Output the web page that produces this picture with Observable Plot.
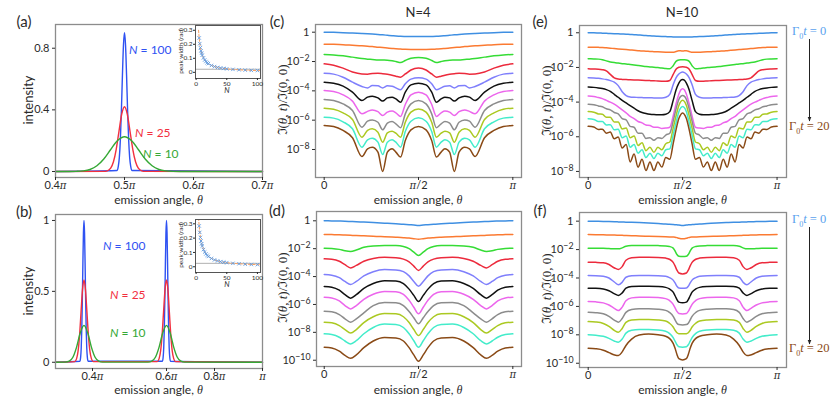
<!DOCTYPE html>
<html><head><meta charset="utf-8">
<script src="https://cdn.jsdelivr.net/npm/d3@7"></script>
<script src="https://cdn.jsdelivr.net/npm/@observablehq/plot@0.6"></script>
<style>
html,body{margin:0;padding:0;background:#fff;}
#fig{position:relative;width:831px;height:398px;overflow:hidden;background:#fff;font-family:Lato,"Open Sans",sans-serif;color:#2b2b2b;}
.t{position:absolute;white-space:nowrap;line-height:1;}
.m{font-family:'Liberation Serif','DejaVu Serif',serif;}
</style></head>
<body><div id="fig"></div>
<script>
// ================= DATA =================
// θ is given in units of π.
// ---- panel (a): one peak at θ = π/2 ----
const aCenters = [0.5];
const aOffN100 = [-0.011,-0.009,-0.0075,-0.006,-0.0045,-0.003,-0.0015,0,0.0015,0.003,0.0045,0.006,0.0075,0.009,0.011];
const aValN100 = [0.006,0.033,0.09,0.207,0.394,0.624,0.821,0.9,0.821,0.624,0.394,0.207,0.09,0.033,0.006];
const aOffN25  = [-0.03,-0.025,-0.02,-0.016,-0.012,-0.008,-0.004,0,0.004,0.008,0.012,0.016,0.02,0.025,0.03];
const aValN25  = [0.0005,0.004,0.0215,0.063,0.144,0.261,0.373,0.42,0.373,0.261,0.144,0.063,0.0215,0.004,0.0005];
const aOffN10  = [-0.08,-0.07,-0.06,-0.05,-0.04,-0.03,-0.02,-0.01,0,0.01,0.02,0.03,0.04,0.05,0.06,0.07,0.08];
const aValN10  = [0,0.0009,0.0038,0.013,0.037,0.081,0.143,0.201,0.225,0.201,0.143,0.081,0.037,0.013,0.0038,0.0009,0];
const aXTicks = [0.4,0.5,0.6,0.7];
const aYTicks = [0,0.4,0.8];

// ---- panel (b): two peaks ----
const bCenters = [0.377, 0.6];
const bOffN100 = [-0.011,-0.009,-0.0075,-0.006,-0.0045,-0.003,-0.0015,0,0.0015,0.003,0.0045,0.006,0.0075,0.009,0.011];
const bValN100 = [0.007,0.037,0.1,0.23,0.437,0.693,0.912,1.0,0.912,0.693,0.437,0.23,0.1,0.037,0.007];
const bOffN25  = [-0.025,-0.02,-0.016,-0.012,-0.008,-0.004,0,0.004,0.008,0.012,0.016,0.02,0.025];
const bValN25  = [0.0044,0.0255,0.078,0.188,0.352,0.512,0.58,0.512,0.352,0.188,0.078,0.0255,0.0044];
const bOffN10  = [-0.05,-0.04,-0.03,-0.02,-0.01,0,0.01,0.02,0.03,0.04,0.05];
const bValN10  = [0.001,0.0074,0.035,0.107,0.208,0.26,0.208,0.107,0.035,0.0074,0.001];
const bXTicks = [0.4,0.6,0.8,1];
const bYTicks = [0,0.5,1];

// ---- insets: peak width (rad) vs N ----
const insetN      = [5,6,7,8,9,10,12,14,16,18,20,25,30,35,40,45,50,60,70,80,90,100];
const insetWidthA = [0.245,0.205,0.176,0.153,0.137,0.123,0.103,0.088,0.077,0.068,0.062,0.049,0.041,0.035,0.031,0.028,0.025,0.021,0.018,0.016,0.014,0.013];
const insetWidthB = [0.285,0.24,0.205,0.18,0.16,0.145,0.12,0.103,0.09,0.08,0.072,0.058,0.048,0.041,0.036,0.032,0.029,0.024,0.021,0.018,0.016,0.015];
const fitN  = [4,5,6,8,10,13,16,20,25,30,40,50,60,70,80,90,100,105];
const fitA  = [0.3,0.245,0.205,0.153,0.123,0.094,0.077,0.061,0.049,0.041,0.031,0.025,0.021,0.018,0.015,0.014,0.012,0.012];
const fitB  = [0.34,0.285,0.24,0.18,0.145,0.112,0.091,0.073,0.058,0.048,0.036,0.029,0.024,0.021,0.018,0.016,0.015,0.014];
const insetRefA = 0.022, insetRefB = 0.024;

// ---- panels (c)-(f): log10 of ℑ(θ,t)/ℑ(0,0), Γ0t = 0 … 20 (11 curves),
//      listed for 0 ≤ θ ≤ π/2; the curves are symmetric about π/2 ----
const thetaC = [0,0.05,0.1,0.15,0.2,0.23,0.255,0.285,0.31,0.335,0.36,0.38,0.405,0.43,0.46,0.5];
const logC = [
 [0,-0.01,-0.03,-0.06,-0.09,-0.11,-0.13,-0.16,-0.18,-0.21,-0.24,-0.26,-0.28,-0.29,-0.3,-0.3],
 [-0.82,-0.83,-0.85,-0.89,-0.93,-0.96,-0.98,-1.02,-1.05,-1.08,-1.11,-1.13,-1.15,-1.17,-1.18,-1.18],
 [-1.52,-1.55,-1.61,-1.7,-1.8,-1.84,-1.86,-1.89,-1.9,-1.91,-1.95,-2.0,-2.07,-1.93,-1.77,-1.73],
 [-2.16,-2.25,-2.45,-2.72,-2.85,-2.86,-2.82,-2.8,-2.83,-2.87,-2.93,-3.0,-3.07,-2.85,-2.58,-2.45],
 [-2.8,-2.86,-3.07,-3.41,-3.7,-3.8,-3.64,-3.66,-3.8,-3.66,-3.68,-3.8,-3.93,-3.52,-3.2,-3.11],
 [-3.41,-3.48,-3.68,-4.09,-4.66,-4.43,-4.36,-4.48,-4.7,-4.48,-4.43,-4.55,-4.77,-4.09,-3.59,-3.48],
 [-3.98,-4.05,-4.27,-4.7,-5.57,-5.4,-5.3,-5.42,-5.68,-5.45,-5.38,-5.5,-5.75,-4.93,-4.27,-4.09],
 [-4.59,-4.66,-4.89,-5.34,-6.48,-6.07,-5.98,-6.14,-6.66,-6.2,-6.09,-6.25,-6.52,-5.57,-4.89,-4.66],
 [-5.18,-5.25,-5.5,-5.95,-7.16,-6.7,-6.59,-6.82,-7.5,-6.86,-6.75,-6.89,-7.16,-6.14,-5.45,-5.23],
 [-5.8,-5.86,-6.11,-6.59,-7.84,-7.34,-7.23,-7.5,-8.34,-7.5,-7.34,-7.5,-7.84,-6.77,-6.07,-5.84],
 [-6.36,-6.43,-6.7,-7.2,-8.48,-7.95,-7.84,-8.18,-9.5,-8.18,-7.95,-8.18,-8.52,-7.39,-6.66,-6.43]
];
const thetaD = [0,0.04,0.08,0.11,0.14,0.17,0.21,0.26,0.32,0.38,0.42,0.45,0.475,0.5];
const logD = [
 [0,-0.01,-0.02,-0.03,-0.05,-0.07,-0.09,-0.12,-0.17,-0.22,-0.25,-0.28,-0.3,-0.33],
 [-0.98,-0.99,-1.0,-1.02,-1.04,-1.06,-1.08,-1.1,-1.14,-1.18,-1.21,-1.24,-1.28,-1.32],
 [-1.96,-1.98,-2.05,-2.15,-2.2,-2.1,-1.9,-1.8,-1.77,-1.78,-1.85,-2.0,-2.25,-2.49],
 [-2.73,-2.76,-2.9,-3.15,-3.38,-3.2,-2.9,-2.7,-2.62,-2.65,-2.75,-2.95,-3.25,-3.56],
 [-3.85,-3.9,-4.08,-4.35,-4.57,-4.35,-3.95,-3.65,-3.5,-3.52,-3.65,-3.95,-4.35,-4.69],
 [-4.71,-4.76,-4.98,-5.3,-5.55,-5.3,-4.85,-4.5,-4.3,-4.32,-4.5,-4.9,-5.35,-5.79],
 [-5.48,-5.53,-5.75,-6.08,-6.32,-6.08,-5.63,-5.27,-5.07,-5.08,-5.27,-5.7,-6.2,-6.67],
 [-6.48,-6.53,-6.73,-7.03,-7.27,-7.03,-6.6,-6.08,-5.86,-5.88,-6.08,-6.5,-6.95,-7.39],
 [-7.27,-7.32,-7.52,-7.8,-8.04,-7.8,-7.3,-6.88,-6.65,-6.67,-6.88,-7.3,-7.8,-8.23],
 [-8.11,-8.16,-8.35,-8.62,-8.83,-8.6,-8.1,-7.65,-7.41,-7.43,-7.65,-8.1,-8.6,-9.07],
 [-9.07,-9.12,-9.35,-9.65,-9.86,-9.62,-9.1,-8.62,-8.37,-8.4,-8.62,-9.1,-9.62,-10.07]
];
const thetaE = [0,0.03,0.054,0.075,0.096,0.117,0.138,0.159,0.18,0.201,0.222,0.243,0.264,0.285,0.306,0.327,0.348,0.369,0.39,0.411,0.432,0.45,0.465,0.48,0.49,0.5];
const logE = [
 [0,0,-0.01,-0.02,-0.03,-0.04,-0.05,-0.06,-0.07,-0.08,-0.1,-0.11,-0.13,-0.14,-0.16,-0.17,-0.19,-0.2,-0.21,-0.22,-0.23,-0.24,-0.245,-0.25,-0.25,-0.25],
 [-0.83,-0.83,-0.84,-0.85,-0.87,-0.89,-0.91,-0.93,-0.95,-0.97,-0.99,-1.01,-1.03,-1.05,-1.06,-1.08,-1.09,-1.1,-1.11,-1.12,-1.13,-1.13,-1.08,-1.04,-1.04,-1.05],
 [-1.5,-1.51,-1.52,-1.55,-1.62,-1.68,-1.72,-1.75,-1.78,-1.8,-1.83,-1.86,-1.89,-1.92,-1.95,-1.97,-1.99,-2.01,-2.03,-2.06,-2.07,-1.9,-1.65,-1.57,-1.56,-1.56],
 [-2.08,-2.09,-2.1,-2.13,-2.2,-2.4,-2.6,-2.67,-2.69,-2.7,-2.71,-2.72,-2.73,-2.74,-2.75,-2.76,-2.77,-2.78,-2.79,-2.8,-2.75,-2.4,-2.1,-1.99,-1.97,-1.96],
 [-2.6,-2.61,-2.63,-2.66,-2.7,-2.76,-2.85,-3.05,-3.4,-3.62,-3.7,-3.72,-3.73,-3.74,-3.75,-3.75,-3.76,-3.76,-3.76,-3.72,-3.55,-3.0,-2.6,-2.38,-2.3,-2.27],
 [-3.13,-3.15,-3.18,-3.22,-3.28,-3.38,-3.55,-3.72,-3.9,-4.05,-4.2,-4.35,-4.5,-4.6,-4.66,-4.7,-4.72,-4.73,-4.73,-4.7,-4.55,-3.9,-3.3,-2.9,-2.74,-2.69],
 [-3.65,-3.68,-3.74,-3.8,-3.9,-4.0,-4.12,-4.27,-4.45,-4.62,-4.82,-4.95,-5.12,-5.2,-5.32,-5.35,-5.45,-5.45,-5.52,-5.5,-5.45,-4.8,-4.1,-3.55,-3.3,-3.23],
 [-4.12,-4.15,-4.22,-4.27,-4.38,-4.45,-4.6,-4.68,-4.95,-5.02,-5.4,-5.45,-5.8,-5.8,-6.1,-6.05,-6.2,-6.05,-6.1,-5.9,-5.8,-5.1,-4.4,-3.85,-3.67,-3.62],
 [-4.54,-4.58,-4.68,-4.7,-4.88,-4.88,-5.15,-5.15,-5.55,-5.5,-6.05,-5.95,-6.5,-6.35,-6.8,-6.6,-6.9,-6.6,-6.75,-6.4,-6.3,-5.5,-4.8,-4.2,-3.97,-3.9],
 [-4.96,-5.0,-5.12,-5.12,-5.32,-5.3,-5.6,-5.57,-6.05,-5.95,-6.6,-6.45,-6.95,-6.75,-7.2,-6.95,-7.25,-6.95,-7.1,-6.75,-6.7,-5.9,-5.2,-4.55,-4.33,-4.25],
 [-5.4,-5.44,-5.58,-5.56,-5.79,-5.73,-6.12,-6.02,-6.65,-6.45,-7.45,-7.0,-7.75,-7.3,-7.95,-7.45,-7.95,-7.45,-7.75,-7.2,-7.3,-6.4,-5.6,-4.95,-4.72,-4.63]
];
const thetaF = [0,0.04,0.08,0.11,0.14,0.16,0.18,0.2,0.23,0.27,0.32,0.37,0.41,0.43,0.45,0.46,0.47,0.48,0.5];
const logF = [
 [0,-0.01,-0.02,-0.03,-0.04,-0.05,-0.06,-0.07,-0.08,-0.1,-0.13,-0.17,-0.2,-0.22,-0.24,-0.25,-0.26,-0.27,-0.3],
 [-0.94,-0.95,-0.96,-0.97,-0.98,-0.99,-1.0,-1.01,-1.02,-1.04,-1.06,-1.08,-1.1,-1.11,-1.12,-1.13,-1.16,-1.2,-1.24],
 [-1.9,-1.9,-1.91,-1.93,-1.95,-1.95,-1.88,-1.76,-1.72,-1.71,-1.71,-1.72,-1.74,-1.78,-1.9,-2.1,-2.35,-2.47,-2.49],
 [-2.89,-2.9,-2.93,-3.05,-3.3,-3.4,-3.2,-2.75,-2.58,-2.54,-2.54,-2.55,-2.6,-2.68,-2.9,-3.15,-3.45,-3.65,-3.71],
 [-3.83,-3.84,-3.88,-4.0,-4.3,-4.48,-4.3,-3.95,-3.85,-3.83,-3.83,-3.84,-3.88,-3.97,-4.15,-4.35,-4.58,-4.7,-4.72],
 [-4.72,-4.73,-4.78,-4.9,-5.12,-5.23,-5.05,-4.72,-4.6,-4.58,-4.58,-4.6,-4.66,-4.77,-5.0,-5.25,-5.52,-5.7,-5.75],
 [-5.66,-5.68,-5.75,-5.9,-6.15,-6.29,-6.05,-5.6,-5.4,-5.35,-5.35,-5.37,-5.45,-5.58,-5.85,-6.1,-6.35,-6.5,-6.53],
 [-6.41,-6.44,-6.52,-6.7,-6.98,-7.11,-6.85,-6.42,-6.22,-6.17,-6.17,-6.2,-6.28,-6.42,-6.7,-6.95,-7.18,-7.28,-7.3],
 [-7.07,-7.1,-7.2,-7.4,-7.7,-7.82,-7.55,-7.12,-6.95,-6.92,-6.92,-6.95,-7.03,-7.18,-7.45,-7.68,-7.85,-7.92,-7.93],
 [-8.0,-8.03,-8.1,-8.25,-8.45,-8.52,-8.3,-7.88,-7.68,-7.63,-7.63,-7.66,-7.75,-7.9,-8.2,-8.45,-8.7,-8.84,-8.87],
 [-8.94,-8.98,-9.08,-9.25,-9.42,-9.46,-9.2,-8.75,-8.3,-8.02,-7.95,-8.0,-8.1,-8.25,-8.6,-8.95,-9.38,-9.68,-9.77]
];
const logXTicks = [0, 0.5, 1];
const logYTicks = [1, 1e-2, 1e-4, 1e-6, 1e-8];
const logYTicks10 = [1, 1e-2, 1e-4, 1e-6, 1e-8, 1e-10];

// ================= STYLE =================
const curveColors = ["#3f8fe2","#fb7a32","#35dc35","#ec2a3c","#7f7ffc","#111111","#ec66ec","#8c8c8c","#abc922","#43ecca","#8a4a16"];
const colN100 = "#2f52f2", colN25 = "#f2303f", colN10 = "#35a835";
const frameStyle = {stroke: "#8c8c8c", strokeWidth: 1.3};

// ================= HELPERS =================
const SVGNS = "http://www.w3.org/2000/svg";
const fig = document.getElementById("fig");

function decorate(svg) {
  svg.querySelectorAll("text").forEach(t => {
    const s = t.textContent;
    if (s.includes("^")) {
      const [base, exp] = s.split("^");
      t.textContent = base;
      const ts = document.createElementNS(SVGNS, "tspan");
      ts.setAttribute("dy", "-0.45em");
      ts.setAttribute("font-size", "0.8em");
      ts.textContent = exp;
      t.appendChild(ts);
    } else if (s.includes("π")) {
      const parts = s.split("π");
      t.textContent = "";
      parts.forEach((p, i) => {
        if (p) t.appendChild(document.createTextNode(p));
        if (i < parts.length - 1) {
          const ts = document.createElementNS(SVGNS, "tspan");
          ts.setAttribute("font-style", "italic");
          ts.setAttribute("font-family", "'DejaVu Serif', serif");
          ts.setAttribute("font-size", "0.92em");
          ts.textContent = "π";
          t.appendChild(ts);
        }
      });
    }
  });
}

function makePlot(frame, m, opts) {
  const [L, T, R, B] = frame;
  const svg = Plot.plot({
    width: R - L + m.l + m.r,
    height: B - T + m.t + m.b,
    marginLeft: m.l, marginRight: m.r, marginTop: m.t, marginBottom: m.b,
    style: {fontFamily: "Lato, 'Open Sans', sans-serif", fontSize: "11px", color: "#2b2b2b", background: "transparent", overflow: "visible"},
    ...opts
  });
  decorate(svg);
  svg.style.position = "absolute";
  svg.style.left = (L - m.l) + "px";
  svg.style.top = (T - m.t) + "px";
  fig.appendChild(svg);
  return svg;
}

function txt(html, x, y, o = {}) {
  const d = document.createElement("div");
  d.className = "t" + (o.cls ? " " + o.cls : "");
  d.innerHTML = html;
  d.style.left = x + "px";
  d.style.top = y + "px";
  d.style.fontSize = (o.size || 12) + "px";
  if (o.color) d.style.color = o.color;
  const tx = o.anchor === "start" ? "0" : o.anchor === "end" ? "-100%" : "-50%";
  d.style.transform = `translate(${tx},-50%)` + (o.rotate ? " rotate(-90deg)" : "");
  fig.appendChild(d);
  return d;
}

function peakRows(centers, offs, vals, lo, hi) {
  const rows = [{t: lo, v: 0}];
  for (const c of centers) offs.forEach((o, i) => rows.push({t: c + o, v: vals[i]}));
  rows.push({t: hi, v: 0});
  return rows;
}
const mirrorTheta = h => h.concat(h.slice(0, -1).reverse().map(t => 1 - t));
const mirrorVals = h => h.concat(h.slice(0, -1).reverse());

const M = {t: 4, r: 4, b: 22, l: 42};
const MI = {t: 2, r: 2, b: 10, l: 13};
const piFmt = d => Math.abs(d - 1) < 1e-6 ? "π" : d3.format(".1f")(d) + "π";
const logFmt = d => d === 1 ? "1" : "10^−" + Math.round(-Math.log10(d));
const angFmt = d => d === 0 ? "0" : d === 0.5 ? "π/2" : "π";

// ================= PANEL (a) =================
const FA = [55, 24, 262, 177];
makePlot(FA, M, {
  x: {domain: [0.4, 0.7]},
  y: {domain: [-0.039, 0.954]},
  marks: [
    Plot.line(peakRows(aCenters, aOffN100, aValN100, 0.4, 0.7), {x: "t", y: "v", stroke: colN100, strokeWidth: 1.4, curve: "monotone-x"}),
    Plot.line(peakRows(aCenters, aOffN25, aValN25, 0.4, 0.7), {x: "t", y: "v", stroke: colN25, strokeWidth: 1.4, curve: "monotone-x"}),
    Plot.line(peakRows(aCenters, aOffN10, aValN10, 0.4, 0.7), {x: "t", y: "v", stroke: colN10, strokeWidth: 1.4, curve: "monotone-x"}),
    Plot.frame(frameStyle),
    Plot.axisX({ticks: aXTicks, tickFormat: piFmt, tickSize: 3, tickPadding: 1, label: null}),
    Plot.axisY({ticks: aYTicks, tickFormat: d => d === 0 ? "0" : String(d), tickSize: 3, tickPadding: 3, label: null})
  ]
});

// ================= PANEL (b) =================
// the reference's θ axis is not uniform: a piecewise-linear scale transform
const FB = [55, 214, 262, 368];
const bAxis = d3.scaleLinear().domain([0.3, 0.4, 0.6, 0.65, 0.8, 1]).range([0, 37, 111, 129, 159, 207]);
makePlot(FB, M, {
  x: {transform: t => bAxis(t), domain: [0, 207]},
  y: {domain: [-0.044, 1.042]},
  marks: [
    Plot.line(peakRows(bCenters, bOffN100, bValN100, 0.3, 1), {x: "t", y: "v", stroke: colN100, strokeWidth: 1.4, curve: "monotone-x"}),
    Plot.line(peakRows(bCenters, bOffN25, bValN25, 0.3, 1), {x: "t", y: "v", stroke: colN25, strokeWidth: 1.4, curve: "monotone-x"}),
    Plot.line(peakRows(bCenters, bOffN10, bValN10, 0.3, 1), {x: "t", y: "v", stroke: colN10, strokeWidth: 1.4, curve: "monotone-x"}),
    Plot.frame(frameStyle),
    Plot.axisX({ticks: bXTicks.map(t => bAxis(t)), tickFormat: u => piFmt(bAxis.invert(u)), tickSize: 3, tickPadding: 1, label: null}),
    Plot.axisY({ticks: bYTicks, tickFormat: d => String(d), tickSize: 3, tickPadding: 3, label: null})
  ]
});

// ================= INSETS =================
function inset(frame, widths, fit, ref, yDom) {
  makePlot(frame, MI, {
    x: {domain: [-1, 105]},
    y: {domain: yDom},
    marks: [
      Plot.ruleY([ref], {stroke: "#9a9a9a", strokeWidth: 0.8}),
      Plot.line(fitN.map((n, i) => ({n, w: fit[i]})), {x: "n", y: "w", stroke: "#f4a066", strokeWidth: 1, strokeDasharray: "2.5,1.8", clip: true}),
      Plot.dot(insetN.map((n, i) => ({n, w: widths[i]})), {x: "n", y: "w", symbol: "times", r: 1.7, stroke: "#5d9be2", strokeWidth: 0.9}),
      Plot.frame({stroke: "#555", strokeWidth: 1}),
      Plot.axisX({ticks: [0, 50, 100], tickSize: 2, tickPadding: 1, fontSize: 6.5, label: null}),
      Plot.axisY({ticks: [0, 0.1, 0.2, 0.3], tickFormat: d => d === 0 ? "0" : d3.format(".1f")(d), tickSize: 2, tickPadding: 1, fontSize: 6.5, label: null})
    ]
  });
}
inset([195, 25, 260, 78], insetWidthA, fitA, insetRefA, [-0.044, 0.334]);
inset([195, 219, 260, 272], insetWidthB, fitB, insetRefB, [-0.04, 0.33]);

// ================= PANELS (c)-(f) =================
function logPanel(frame, xDom, yExp, theta, curves, yTicks) {
  const full = mirrorTheta(theta);
  const lines = curves.map((half, k) => {
    const vals = mirrorVals(half);
    return Plot.line(vals.map((v, i) => ({t: full[i], v: Math.pow(10, v)})),
      {x: "t", y: "v", stroke: curveColors[k], strokeWidth: 1.5, curve: "monotone-x"});
  });
  makePlot(frame, M, {
    x: {domain: xDom},
    y: {type: "log", domain: [Math.pow(10, yExp[0]), Math.pow(10, yExp[1])]},
    marks: [
      ...lines,
      Plot.frame(frameStyle),
      Plot.axisX({ticks: logXTicks, tickFormat: angFmt, tickSize: 3, tickPadding: 1, label: null}),
      Plot.axisY({ticks: yTicks, tickFormat: logFmt, tickSize: 3, tickPadding: 3, label: null})
    ]
  });
}
logPanel([315, 24, 521, 177], [-0.046, 1.046], [-9.91, 0.525], thetaC, logC, logYTicks);
logPanel([316, 211, 521, 366], [-0.041, 1.046], [-10.45, 0.667], thetaD, logD, logYTicks10);
logPanel([579, 25, 786, 177], [-0.046, 1.05], [-8.35, 0.42], thetaE, logE, logYTicks);
logPanel([579, 212, 786, 367], [-0.046, 1.05], [-10.3, 0.61], thetaF, logF, logYTicks10);

// ================= TEXT =================
const th = '<i class="m">θ</i>';
[["(a)",24,21],["(b)",24,211],["(c)",277,21],["(d)",277,210],["(e)",540,21],["(f)",540,210]]
  .forEach(([s,x,y]) => txt(s, x, y, {size: 15}));
txt("N=4", 418, 12, {size: 13});
txt("N=10", 682, 12, {size: 13});
[[158.5,200],[158.5,390],[418,200],[418,390],[682.5,200],[682.5,390]]
  .forEach(([x,y]) => txt("emission angle, " + th, x, y, {size: 12}));
txt("intensity", 28, 100, {size: 13, rotate: true});
txt("intensity", 28, 291, {size: 13, rotate: true});
const ylab = 'ℑ(<i>θ</i>, <i>t</i>)/ℑ(0, 0)';
[[282,100],[282,288],[546,101],[546,289]].forEach(([x,y]) => txt(ylab, x, y, {size: 13, rotate: true, cls: "m"}));

txt('<i>N</i> = 100', 129, 50, {anchor: "start", color: colN100});
txt('<i>N</i> = 25', 135, 133, {anchor: "start", color: colN25});
txt('<i>N</i> = 10', 143, 154, {anchor: "start", color: colN10});
txt('<i>N</i> = 100', 103, 246, {anchor: "start", color: colN100});
txt('<i>N</i> = 25', 110, 295, {anchor: "start", color: colN25});
txt('<i>N</i> = 10', 110, 333, {anchor: "start", color: colN10});

txt("peak width (rad)", 181, 51, {size: 6.5, rotate: true});
txt("peak width (rad)", 181, 245, {size: 6.5, rotate: true});
txt("<i>N</i>", 227, 91, {size: 7.5});
txt("<i>N</i>", 227, 285, {size: 7.5});

const g0 = v => `Γ<sub style="font-size:8px">0</sub><i>t</i> = ${v}`;
txt(g0(0), 792, 32.5, {anchor: "start", size: 12.5, cls: "m", color: "#5aa2ee"});
txt(g0(20), 789, 127.5, {anchor: "start", size: 12.5, cls: "m", color: "#8a4a16"});
txt(g0(0), 792, 221, {anchor: "start", size: 12.5, cls: "m", color: "#5aa2ee"});
txt(g0(20), 789, 350, {anchor: "start", size: 12.5, cls: "m", color: "#8a4a16"});

const ov = document.createElementNS(SVGNS, "svg");
ov.setAttribute("width", 831); ov.setAttribute("height", 398);
ov.style.position = "absolute"; ov.style.left = "0px"; ov.style.top = "0px";
ov.innerHTML = `<defs><marker id="ah" viewBox="0 0 10 10" refX="9" refY="5" markerWidth="5" markerHeight="5" orient="auto"><path d="M0,1L10,5L0,9z" fill="#222"/></marker></defs>
<line x1="809.5" y1="39" x2="809.5" y2="121" stroke="#222" stroke-width="1" marker-end="url(#ah)"/>
<line x1="809.5" y1="227" x2="809.5" y2="344" stroke="#222" stroke-width="1" marker-end="url(#ah)"/>`;
fig.appendChild(ov);
</script></body></html>
